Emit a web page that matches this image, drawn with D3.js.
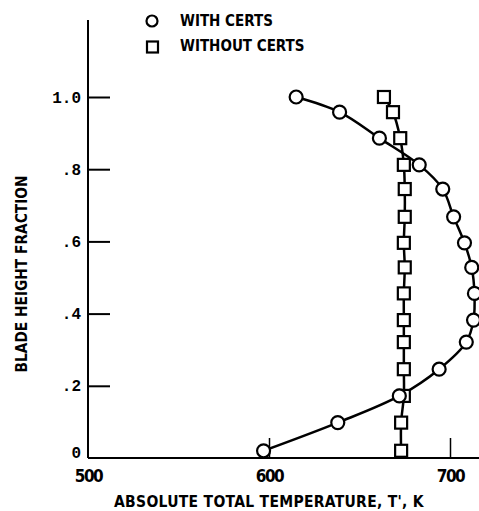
<!DOCTYPE html>
<html>
<head>
<meta charset="utf-8">
<script src="https://cdn.jsdelivr.net/npm/d3@7"></script>
<style>
  body { margin: 0; background: #fff; }
  svg { display: block; }
  .narrow { font-family: "Liberation Sans Narrow", "DejaVu Sans Condensed", "Liberation Sans", sans-serif; font-stretch: condensed; font-weight: bold; }
  .mono { font-family: "Liberation Mono", "DejaVu Sans Mono", monospace; font-weight: bold; }
</style>
</head>
<body>
<div id="chart"></div>
<script>
// Declare the chart dimensions.
const width = 479;
const height = 511;

// Blade height stations (shared by both runs).
const bladeHeight = [1.0, 0.958, 0.886, 0.812, 0.745, 0.668, 0.596, 0.528, 0.456, 0.382, 0.321, 0.246, 0.172, 0.098, 0.02];
// Absolute total temperature, K.
const withCerts = [615, 639, 661, 683, 696, 702, 708, 712, 713.5, 713, 709, 694, 672, 638, 597];
const withoutCerts = [663.5, 668.5, 672.5, 674.5, 675, 675, 674.5, 675, 674.5, 674.5, 674.5, 674.5, 674.5, 673, 673];

const xTicks = [500, 600, 700];
const yTicks = [0, 0.2, 0.4, 0.6, 0.8, 1.0];
const yTickLabels = ["0", ".2", ".4", ".6", ".8", "1.0"];
const legendLabels = ["WITH CERTS", "WITHOUT CERTS"];

const x = d3.scaleLinear().domain([500, 700]).range([88, 450]);
const y = d3.scaleLinear().domain([0, 1]).range([458, 97]);

const svg = d3.select("#chart").append("svg")
  .attr("width", width)
  .attr("height", height);

// axis lines
svg.append("line")
  .attr("x1", x(500)).attr("x2", width)
  .attr("y1", y(0)).attr("y2", y(0))
  .attr("stroke", "#000").attr("stroke-width", 2);
svg.append("line")
  .attr("x1", x(500)).attr("x2", x(500))
  .attr("y1", y(0)).attr("y2", 20)
  .attr("stroke", "#000").attr("stroke-width", 2);

// y axis, ticks pointing inward
const yAxis = svg.append("g")
  .attr("transform", `translate(${x(500)},0)`)
  .call(d3.axisLeft(y).tickValues(yTicks).tickSizeInner(-22).tickSizeOuter(0).tickPadding(7)
    .tickFormat((d, i) => yTickLabels[i]));
yAxis.select(".domain").remove();
yAxis.selectAll(".tick line").attr("stroke", "#000").attr("stroke-width", 2);
yAxis.selectAll(".tick text").attr("class", "mono").attr("font-size", 16).attr("fill", "#000");
yAxis.selectAll(".tick").filter(d => d === 0).select("line").remove();
yAxis.selectAll(".tick").filter(d => d === 0).select("text").attr("dy", "-0.05em");

// x axis, ticks pointing up
const xAxis = svg.append("g")
  .attr("transform", `translate(0,${y(0)})`)
  .call(d3.axisBottom(x).tickValues(xTicks).tickSizeInner(-20).tickSizeOuter(0).tickPadding(12)
    .tickFormat(d3.format("d")));
xAxis.select(".domain").remove();
xAxis.selectAll(".tick line").attr("stroke", "#000").attr("stroke-width", 1.5);
xAxis.selectAll(".tick").filter(d => d === 500).select("line").remove();
xAxis.selectAll(".tick text").attr("class", "narrow").attr("font-size", 17).attr("fill", "#000")
  .attr("letter-spacing", -1.5);

// axis titles
svg.append("text")
  .attr("class", "narrow")
  .attr("transform", `translate(27,${274}) rotate(-90)`)
  .attr("text-anchor", "middle")
  .attr("font-size", 15.3)
  .text("BLADE HEIGHT FRACTION");

svg.append("text")
  .attr("class", "narrow")
  .attr("x", 269).attr("y", 507)
  .attr("text-anchor", "middle")
  .attr("font-size", 15.5)
  .attr("letter-spacing", 0.3)
  .text("ABSOLUTE TOTAL TEMPERATURE, T', K");

// data lines
const line = d3.line()
  .x(d => x(d.t))
  .y(d => y(d.h))
  .curve(d3.curveCatmullRom);

const withData = withCerts.map((t, i) => ({ t, h: bladeHeight[i] }));
const withoutData = withoutCerts.map((t, i) => ({ t, h: bladeHeight[i] }));

svg.append("path").datum(withoutData)
  .attr("d", line).attr("fill", "none").attr("stroke", "#000").attr("stroke-width", 2.5);
svg.append("path").datum(withData)
  .attr("d", line).attr("fill", "none").attr("stroke", "#000").attr("stroke-width", 2.5);

// square markers
svg.selectAll("rect.sq").data(withoutData).join("rect")
  .attr("class", "sq")
  .attr("x", d => x(d.t) - 6).attr("y", d => y(d.h) - 6)
  .attr("width", 12).attr("height", 12)
  .attr("fill", "#fff").attr("stroke", "#000").attr("stroke-width", 2.2);

// circle markers
svg.selectAll("circle.ci").data(withData).join("circle")
  .attr("class", "ci")
  .attr("cx", d => x(d.t)).attr("cy", d => y(d.h))
  .attr("r", 6.5)
  .attr("fill", "#fff").attr("stroke", "#000").attr("stroke-width", 2.2);

// legend
const legend = svg.append("g");
legend.append("circle")
  .attr("cx", 152).attr("cy", 21).attr("r", 5.5)
  .attr("fill", "#fff").attr("stroke", "#000").attr("stroke-width", 2.2);
legend.append("rect")
  .attr("x", 147).attr("y", 41.5).attr("width", 11).attr("height", 11)
  .attr("fill", "#fff").attr("stroke", "#000").attr("stroke-width", 2.2);
legend.selectAll("text").data(legendLabels).join("text")
  .attr("class", "narrow")
  .attr("x", 180)
  .attr("y", (d, i) => 26 + i * 25)
  .attr("font-size", 15)
  .text(d => d);
</script>
</body>
</html>
